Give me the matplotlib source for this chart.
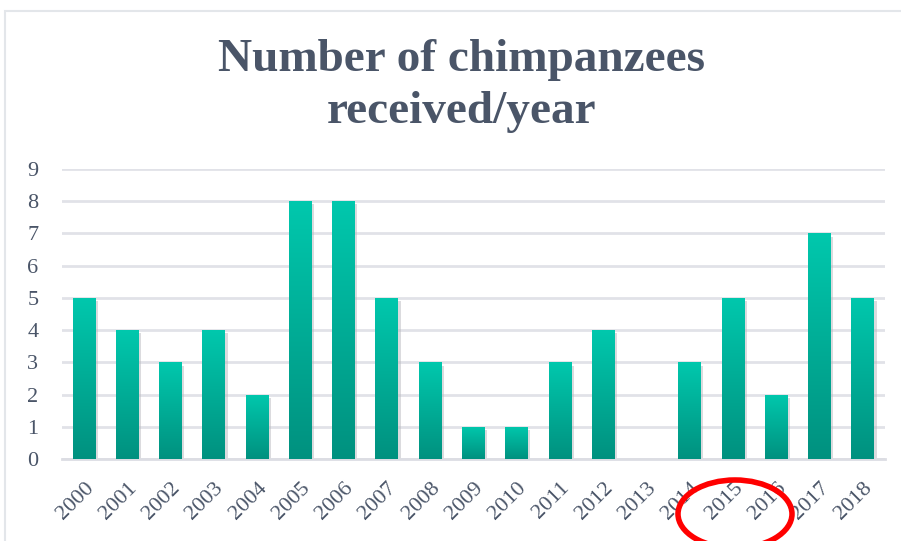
import numpy as np
import matplotlib
matplotlib.use("Agg")
import matplotlib.pyplot as plt
from matplotlib.patches import Ellipse, Rectangle
from matplotlib.colors import LinearSegmentedColormap

years = ['2000', '2001', '2002', '2003', '2004', '2005', '2006', '2007', '2008', '2009',
         '2010', '2011', '2012', '2013', '2014', '2015', '2016', '2017', '2018']
received = [5, 4, 3, 4, 2, 8, 8, 5, 3, 1, 1, 3, 4, 0, 3, 5, 2, 7, 5]

text_col = '#4a5568'
plt.rcParams['font.family'] = ['Liberation Serif', 'DejaVu Serif']

fig = plt.figure(figsize=(9.01, 5.41), dpi=100)
W, H = 901, 541
ax = fig.add_axes([62 / W, 1 - 459 / H, 823 / W, 290 / H])

x = np.arange(len(years))
bar_width = 0.53
grad = LinearSegmentedColormap.from_list('teal', ['#00917f', '#00c8ad'])
gimg = np.linspace(0, 1, 256).reshape(-1, 1)

# soft shadow first, then gradient bars
ax.bar(x + 0.05, received, bar_width, bottom=-0.1, color='#b8b8be', alpha=0.5, zorder=2)
bars = ax.bar(x, received, bar_width, color='none', zorder=3)
for b, v in zip(bars, received):
    if v <= 0:
        continue
    im = ax.imshow(gimg, cmap=grad, origin='lower', aspect='auto',
                   extent=[b.get_x(), b.get_x() + b.get_width(), 0, v], zorder=3)
    im.set_clip_path(b)

ax.set_xlim(-0.51, len(years) - 0.49)
ax.set_ylim(0, 9)
ax.set_yticks(range(10))
ax.set_xticks(x)
ax.set_xticklabels(years, rotation=45, ha='right', rotation_mode='anchor')
ax.tick_params(axis='both', length=0, colors=text_col, labelsize=16)
ax.tick_params(axis='y', pad=17)
ax.tick_params(axis='x', pad=14)
ax.grid(axis='y', color='#e1e2e8', linewidth=2, zorder=0)
ax.set_axisbelow(True)
for s in ['top', 'right', 'left']:
    ax.spines[s].set_visible(False)
ax.spines['bottom'].set_color('#dcdde3')
ax.spines['bottom'].set_linewidth(2)

fig.text(0.512, 1 - 60 / H, 'Number of chimpanzees', ha='center', va='center',
         fontsize=34, fontweight='bold', color=text_col)
fig.text(0.512, 1 - 112 / H, 'received/year', ha='center', va='center',
         fontsize=34, fontweight='bold', color=text_col)

# chart frame
fig.patches.append(Rectangle((5 / W, -0.1), 1.1, 1.1 - 11 / H, transform=fig.transFigure,
                             fill=False, edgecolor='#e3e6ea', linewidth=1.5))

# red circle annotation
fig.patches.append(Ellipse((735 / W, 1 - 514 / H), 114 / W, 68 / H, transform=fig.transFigure,
                           fill=False, edgecolor='#ff0000', linewidth=4, zorder=10))

fig.savefig('out.png', dpi=100)
